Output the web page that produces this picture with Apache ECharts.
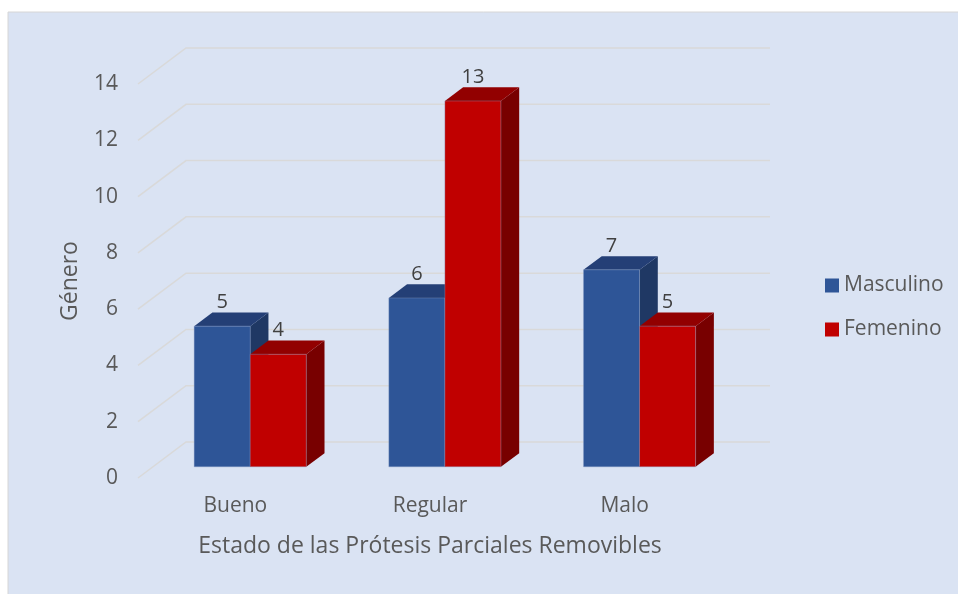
<!DOCTYPE html>
<html>
<head>
<meta charset="utf-8">
<script src="https://cdn.jsdelivr.net/npm/echarts@6/dist/echarts.min.js"></script>
<style>
  html, body { margin: 0; padding: 0; background: #ffffff; }
  #chart { width: 958px; height: 594px; }
</style>
</head>
<body>
<div id="chart"></div>
<script>
var categories = ['Bueno', 'Regular', 'Malo'];
var masculino = [5, 6, 7];
var femenino = [4, 13, 5];
var yTicks = [0, 2, 4, 6, 8, 10, 12, 14];

// floor depth vector and bar placement
var DEPTH_X = 48;
var DEPTH_Y = -36;
var BAR_D0 = 0.31;
var BAR_D1 = 0.69;
var BAR_FRAC = 0.288;

var FONT = '"Open Sans", sans-serif';

var chart = echarts.init(document.getElementById('chart'));

function renderGrid(params, api) {
    var cs = params.coordSys;
    var y = api.coord([0, api.value(0)])[1];
    var x0 = cs.x;
    var x1 = cs.x + cs.width;
    return {
        type: 'polyline',
        shape: {
            points: [[x0, y], [x0 + DEPTH_X, y + DEPTH_Y], [x1 + DEPTH_X, y + DEPTH_Y]]
        },
        style: { stroke: '#d9d9d9', lineWidth: 1.5, fill: null },
        silent: true
    };
}

function makeBarRenderer(side, front, top, right) {
    return function (params, api) {
        var cat = api.value(0);
        var val = api.value(1);
        var base = api.coord([cat, 0]);
        var tip = api.coord([cat, val]);
        var w = api.size([1, 0])[0] * BAR_FRAC;
        var ox = DEPTH_X * BAR_D0;
        var oy = DEPTH_Y * BAR_D0;
        var dx = DEPTH_X * (BAR_D1 - BAR_D0);
        var dy = DEPTH_Y * (BAR_D1 - BAR_D0);
        var xl = base[0] + ox + (side === 0 ? -w : 0);
        var xr = xl + w;
        var yb = base[1] + oy;
        var yt = tip[1] + oy;
        return {
            type: 'group',
            children: [
                {
                    type: 'polygon',
                    shape: { points: [[xr, yb], [xr + dx, yb + dy], [xr + dx, yt + dy], [xr, yt]] },
                    style: { fill: right }
                },
                {
                    type: 'polygon',
                    shape: { points: [[xl, yt], [xr, yt], [xr + dx, yt + dy], [xl + dx, yt + dy]] },
                    style: { fill: top }
                },
                {
                    type: 'rect',
                    shape: { x: xl, y: yt, width: w, height: yb - yt },
                    style: { fill: front, stroke: 'rgba(140,160,200,0.6)', lineWidth: 0.6 }
                },
                {
                    type: 'text',
                    x: xl + w / 2,
                    y: yt + dy,
                    style: {
                        text: String(val),
                        fill: '#404040',
                        font: '20px ' + FONT,
                        align: 'center',
                        verticalAlign: 'bottom'
                    }
                }
            ]
        };
    };
}

function toPairs(arr) {
    return arr.map(function (v, i) { return [i, v]; });
}

chart.setOption({
    backgroundColor: '#ffffff',
    animation: false,
    graphic: [{
        type: 'rect',
        z: -10,
        shape: { x: 8, y: 12, width: 960, height: 600 },
        style: { fill: '#dae3f3', stroke: '#d6d6d6', lineWidth: 1 }
    }],
    grid: { left: 138, right: 236, top: 84, bottom: 116 },
    legend: {
        orient: 'vertical',
        left: 820,
        top: 270,
        itemWidth: 14,
        itemHeight: 14,
        itemGap: 23,
        icon: 'rect',
        data: ['Masculino', 'Femenino'],
        textStyle: { color: '#595959', fontSize: 21, fontFamily: FONT }
    },
    xAxis: {
        type: 'category',
        data: categories,
        name: 'Estado de las Prótesis Parciales Removibles',
        nameLocation: 'middle',
        nameGap: 57,
        nameTextStyle: { color: '#595959', fontSize: 23, fontFamily: FONT },
        axisLine: { show: false },
        axisTick: { show: false },
        axisLabel: { color: '#595959', fontSize: 21, fontFamily: FONT, margin: 18 },
        splitLine: { show: false }
    },
    yAxis: {
        type: 'value',
        min: 0,
        max: 14,
        interval: 2,
        name: 'Género',
        nameLocation: 'middle',
        nameGap: 56,
        nameTextStyle: { color: '#595959', fontSize: 23, fontFamily: FONT },
        axisLine: { show: false },
        axisTick: { show: false },
        axisLabel: { color: '#595959', fontSize: 21, fontFamily: FONT, margin: 20 },
        splitLine: { show: false }
    },
    series: [
        {
            type: 'custom',
            name: 'grid',
            silent: true,
            clip: false,
            z: 1,
            data: yTicks.map(function (v) { return [v]; }),
            encode: { y: 0 },
            renderItem: renderGrid
        },
        {
            type: 'custom',
            name: 'Masculino',
            clip: false,
            z: 2,
            itemStyle: { color: '#2e5597' },
            data: toPairs(masculino),
            encode: { x: 0, y: 1 },
            renderItem: makeBarRenderer(0, '#2e5597', '#243f76', '#1f3864')
        },
        {
            type: 'custom',
            name: 'Femenino',
            clip: false,
            z: 2,
            itemStyle: { color: '#c00000' },
            data: toPairs(femenino),
            encode: { x: 0, y: 1 },
            renderItem: makeBarRenderer(1, '#c00000', '#920000', '#780000')
        }
    ]
});
</script>
</body>
</html>
